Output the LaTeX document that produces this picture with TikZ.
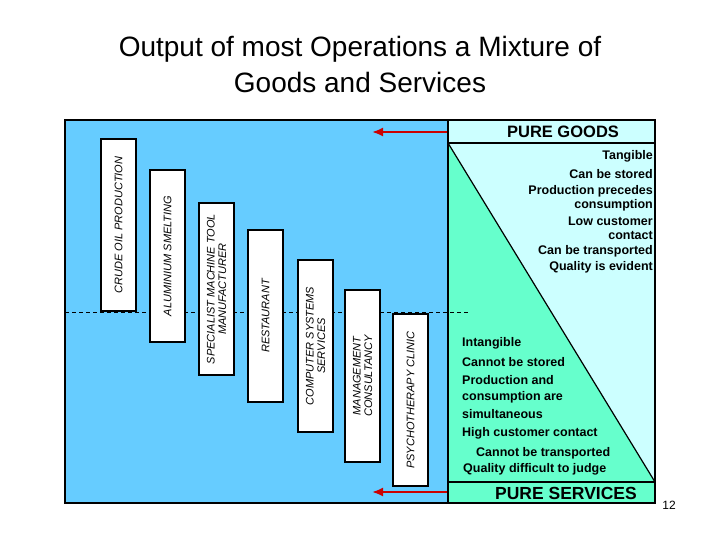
\documentclass[tikz,border=0pt]{standalone}
\usepackage{fontspec}
\setmainfont{Liberation Sans}
\usetikzlibrary{arrows.meta}
\begin{document}
\begin{tikzpicture}[x=1pt,y=-1pt,
 cat/.style={draw=black,line width=1.2pt,fill=white,minimum width=172pt,minimum height=35pt,rotate=90,inner sep=1pt,font=\itshape\fontsize{11}{11.5}\selectfont,align=center,anchor=center},
 gtxt/.style={font=\bfseries\fontsize{12.5}{13}\selectfont,inner sep=0pt},
 redarrow/.style={draw={rgb,255:red,204;green,0;blue,0},line width=2pt,-{Latex[length=11pt,width=9pt]}}]
\useasboundingbox (0,0) rectangle (720,540);
\definecolor{bl}{HTML}{66CCFF}\definecolor{lc}{HTML}{CCFFFF}\definecolor{gr}{HTML}{66FFCC}
\node[font=\fontsize{28}{36}\selectfont,align=center] (title) at (360,64) {Output of most Operations a Mixture of\\Goods and Services};
\fill[bl] (65,120) rectangle (448,503);
\fill[lc] (448,143) rectangle (655,482);
\fill[gr] (448,143) -- (655,482) -- (448,482) -- cycle;
\fill[lc] (448,120) rectangle (655,143);
\fill[gr] (448,482) rectangle (655,503);
\draw[line width=1.2pt] (65,120) rectangle (655,503);
\draw[line width=1.2pt] (448,120) -- (448,503) (448,143) -- (655,143) (448,482) -- (655,482);
\draw[line width=1.2pt] (448,143) -- (655,482);
\draw[line width=1pt,dash pattern=on 4pt off 3pt] (65,312) -- (470,312);
\node[cat] (c1) at (118.5,225) {CRUDE OIL PRODUCTION};
\node[cat] (c2) at (167.5,256) {ALUMINIUM SMELTING};
\node[cat] (c3) at (216.5,289) {SPECIALIST MACHINE TOOL\\MANUFACTURER};
\node[cat] (c4) at (265.5,316) {RESTAURANT};
\node[cat] (c5) at (315.5,346) {COMPUTER SYSTEMS\\SERVICES};
\node[cat] (c6) at (362.5,376) {MANAGEMENT\\CONSULTANCY};
\node[cat] (c7) at (410.5,400) {PSYCHOTHERAPY CLINIC};
\coordinate (a1s) at (447,132); \coordinate (a1e) at (372,132);
\coordinate (a2s) at (447,492); \coordinate (a2e) at (372,492);
\draw[redarrow] (a1s) -- (a1e);
\draw[redarrow] (a2s) -- (a2e);
\node[font=\bfseries\fontsize{16.5}{18}\selectfont] (pg) at (563,132) {PURE GOODS};
\node[font=\bfseries\fontsize{17.5}{18}\selectfont] (ps) at (566,493) {PURE SERVICES};
\node[gtxt,anchor=east] at (653,156) {Tangible};
\node[gtxt,anchor=east] at (653,174) {Can be stored};
\node[gtxt,anchor=east] at (653,191) {Production precedes};
\node[gtxt,anchor=east] at (653,205) {consumption};
\node[gtxt,anchor=east] at (653,221) {Low customer};
\node[gtxt,anchor=east] at (653,235) {contact};
\node[gtxt,anchor=east] at (653,251) {Can be transported};
\node[gtxt,anchor=east] at (653,267) {Quality is evident};
\node[gtxt,anchor=west] at (462,343) {Intangible};
\node[gtxt,anchor=west] at (462,362) {Cannot be stored};
\node[gtxt,anchor=west] at (462,380) {Production and};
\node[gtxt,anchor=west] at (462,397) {consumption are};
\node[gtxt,anchor=west] at (462,414) {simultaneous};
\node[gtxt,anchor=west] at (462,433) {High customer contact};
\node[gtxt,anchor=west] at (476,453) {Cannot be transported};
\node[gtxt,anchor=west] at (463,469) {Quality difficult to judge};
\node[font=\fontsize{12}{13}\selectfont] (pn) at (669,505) {12};
\end{tikzpicture}
\end{document}
